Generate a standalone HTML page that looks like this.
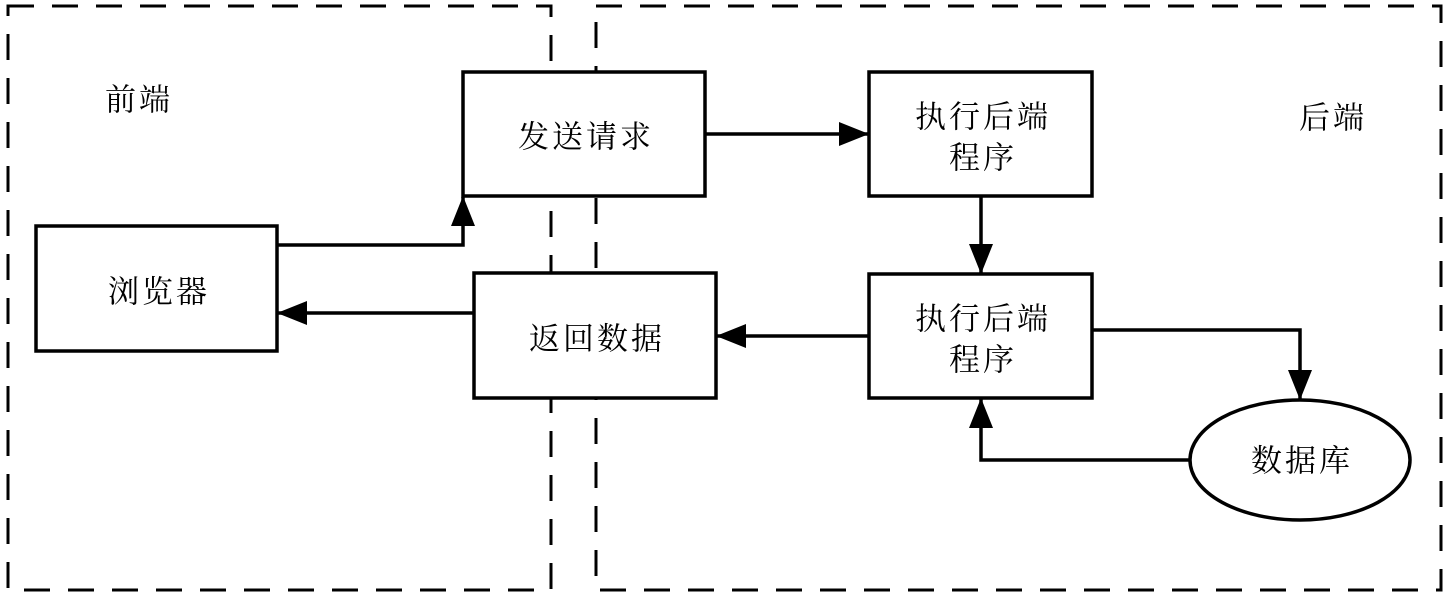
<!DOCTYPE html>
<html><head><meta charset="utf-8"><style>
body{margin:0;background:#fff;}
svg text{font-family:"Noto Serif CJK SC","Liberation Serif",serif;font-size:31px;letter-spacing:3px;fill:#000;text-anchor:middle;dominant-baseline:central;}
</style></head><body>
<svg width="1448" height="598" viewBox="0 0 1448 598" xmlns="http://www.w3.org/2000/svg">
<defs>
<marker id="b" markerWidth="30" markerHeight="24" refX="29" refY="12" orient="auto" markerUnits="userSpaceOnUse"><path d="M0,0 L30,12 L0,24z" fill="#000"/></marker></defs>
<g fill="none" stroke="#000" stroke-width="3" stroke-dasharray="26 18">
<rect x="8" y="6" width="543" height="584"/>
<rect x="596" y="6" width="845" height="584"/>
</g>
<g fill="#fff" stroke="#000" stroke-width="3.5">
<rect x="463" y="72" width="242" height="124"/>
<rect x="36" y="226" width="241" height="125"/>
<rect x="474" y="273" width="242" height="125"/>
<rect x="869" y="72" width="223" height="124"/>
<rect x="869" y="274" width="223" height="124"/>
<ellipse cx="1300" cy="460" rx="110" ry="60"/>
</g>
<g fill="none" stroke="#000" stroke-width="3.5" marker-end="url(#b)">
<polyline points="277,245 463,245 463,197"/>
<polyline points="705,134 868,134"/>
<polyline points="981,196 981,273"/>
<polyline points="869,336 717,336"/>
<polyline points="474,313 278,313"/>
<polyline points="1092,330 1300,330 1300,399"/>
<polyline points="1190,460 981,460 981,399"/>
</g>
<text x="139" y="97">前端</text>
<text x="1333" y="115">后端</text>
<text x="586" y="134">发送请求</text>
<text x="159" y="289">浏览器</text>
<text x="597" y="336">返回数据</text>
<text x="983" y="114">执行后端</text>
<text x="983" y="155">程序</text>
<text x="983" y="316">执行后端</text>
<text x="983" y="357">程序</text>
<text x="1302" y="458">数据库</text>
</svg>
</body></html>
